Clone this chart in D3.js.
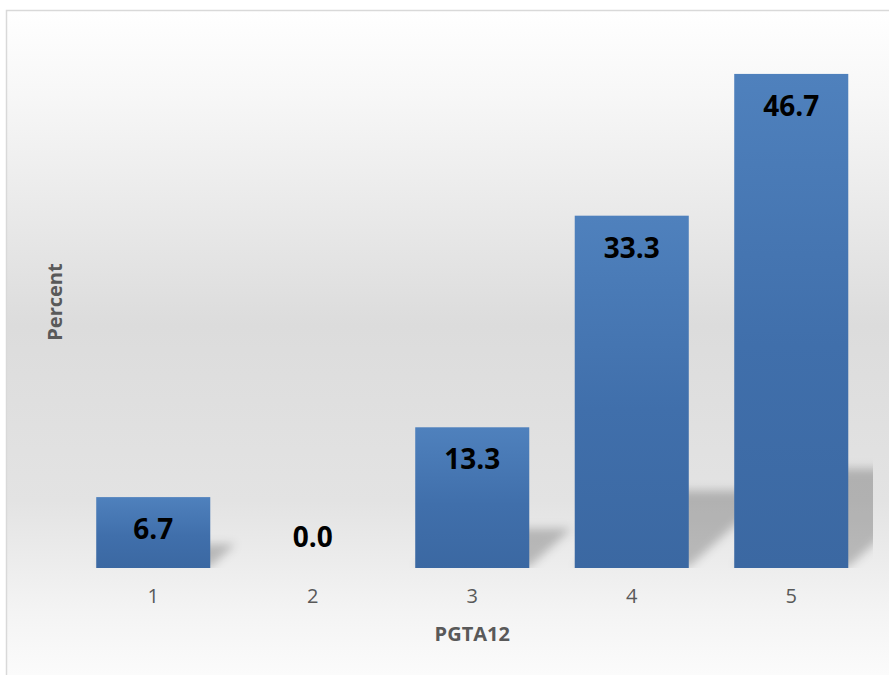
<!DOCTYPE html>
<html>
<head>
<meta charset="utf-8">
<script src="https://cdn.jsdelivr.net/npm/d3@7"></script>
<style>
  html, body { margin: 0; padding: 0; background: #ffffff; }
  svg { display: block; }
</style>
</head>
<body>
<svg id="chart" width="889" height="675"></svg>
<script>
// ---- data ----
const categories = ["1", "2", "3", "4", "5"];
const percents = [6.7, 0.0, 13.3, 33.3, 46.7];
const xTitle = "PGTA12";
const yTitle = "Percent";
const yDomain = [0, 50];

// ---- layout ----
const W = 889, H = 675;
const plot = { left: 73.5, right: 871, top: 39, bottom: 568 };
const FONT = "'Open Sans', 'Noto Sans', 'DejaVu Sans', sans-serif";

const svg = d3.select("#chart");
const defs = svg.append("defs");

// chart-area background: light vertical gradient
const bgGrad = defs.append("linearGradient")
  .attr("id", "bgGrad").attr("x1", 0).attr("y1", 0).attr("x2", 0).attr("y2", 1);
[[0, "#ffffff"], [0.12, "#f7f7f7"], [0.45, "#dcdcdc"], [0.7, "#e3e3e3"],
 [0.86, "#f4f4f4"], [1, "#ffffff"]]
  .forEach(([o, c]) => bgGrad.append("stop").attr("offset", o).attr("stop-color", c));

// bar fill: lighter top, darker bottom
const barGrad = defs.append("linearGradient")
  .attr("id", "barGrad").attr("x1", 0).attr("y1", 0).attr("x2", 0).attr("y2", 1);
[[0, "#4f81bd"], [0.55, "#406fab"], [1, "#3b68a2"]]
  .forEach(([o, c]) => barGrad.append("stop").attr("offset", o).attr("stop-color", c));

// soft shadow blur
defs.append("filter").attr("id", "shadowBlur")
  .attr("x", "-50%").attr("y", "-50%").attr("width", "200%").attr("height", "200%")
  .append("feGaussianBlur").attr("stdDeviation", 5);

defs.append("clipPath").attr("id", "plotClip")
  .append("rect").attr("x", 6).attr("y", plot.top - 30)
  .attr("width", 873 - 6).attr("height", plot.bottom - plot.top + 30);

// chart frame
svg.append("rect")
  .attr("x", 6.5).attr("y", 10.5)
  .attr("width", 900).attr("height", 700)
  .attr("fill", "url(#bgGrad)")
  .attr("stroke", "#d9d9d9").attr("stroke-width", 1.5);

// ---- scales ----
const x = d3.scaleBand()
  .domain(categories)
  .range([plot.left, plot.right])
  .paddingInner(0.285)
  .paddingOuter(0.1425);

const y = d3.scaleLinear().domain(yDomain).range([plot.bottom, plot.top]);

const rows = categories.map((c, i) => ({ cat: c, value: percents[i] }));

// ---- perspective shadows behind the bars ----
const shadowG = svg.append("g").attr("clip-path", "url(#plotClip)");
shadowG.selectAll("polygon")
  .data(rows.filter(d => d.value > 0))
  .join("polygon")
  .attr("points", d => {
    const x0 = x(d.cat), x1 = x0 + x.bandwidth();
    const b = y(0) - 1, barH = y(0) - y(d.value);
    const h = 0.94 * Math.pow(barH, 0.75);
    const s = 1.1 * h;
    return [[x0, b], [x1, b], [x1 + s, b - h], [x0 + s, b - h]].map(p => p.join(",")).join(" ");
  })
  .attr("fill", "#000")
  .attr("fill-opacity", 0.22)
  .attr("filter", "url(#shadowBlur)");

// ---- bars ----
svg.append("g").selectAll("rect")
  .data(rows)
  .join("rect")
  .attr("x", d => x(d.cat))
  .attr("y", d => y(d.value))
  .attr("width", x.bandwidth())
  .attr("height", d => y(0) - y(d.value))
  .attr("fill", "url(#barGrad)");

// ---- value labels ----
svg.append("g").selectAll("text")
  .data(rows)
  .join("text")
  .attr("x", d => x(d.cat) + x.bandwidth() / 2)
  .attr("y", d => Math.min(y(d.value) + 42, y(0) - 21))
  .attr("text-anchor", "middle")
  .attr("font-family", FONT)
  .attr("font-weight", "bold")
  .attr("font-size", 28)
  .attr("fill", "#000000")
  .text(d => d.value.toFixed(1));

// ---- x axis (labels only) ----
const xAxis = svg.append("g")
  .attr("transform", `translate(0,${plot.bottom})`)
  .call(d3.axisBottom(x).tickSize(0).tickPadding(21));
xAxis.select(".domain").remove();
xAxis.selectAll("text")
  .attr("font-family", FONT)
  .attr("font-size", 20)
  .attr("fill", "#595959");

// ---- axis titles ----
svg.append("text")
  .attr("x", (plot.left + plot.right) / 2)
  .attr("y", 641)
  .attr("text-anchor", "middle")
  .attr("font-family", FONT)
  .attr("font-weight", "bold")
  .attr("font-size", 20)
  .attr("fill", "#595959")
  .text(xTitle);

svg.append("text")
  .attr("transform", `translate(62,302) rotate(-90)`)
  .attr("text-anchor", "middle")
  .attr("font-family", FONT)
  .attr("font-weight", "bold")
  .attr("font-size", 20)
  .attr("fill", "#595959")
  .text(yTitle);
</script>
</body>
</html>
